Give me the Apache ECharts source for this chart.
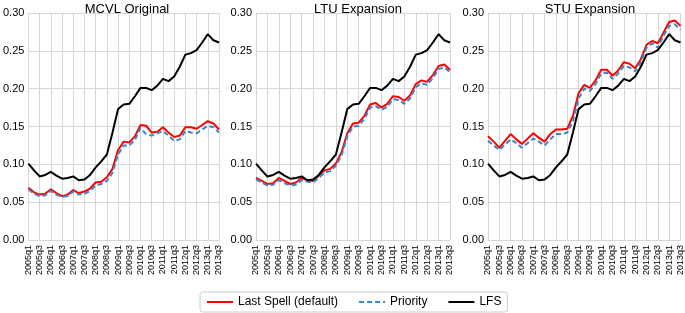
<!DOCTYPE html>
<html>
<head>
<meta charset="utf-8">
<script src="https://cdn.jsdelivr.net/npm/echarts@6/dist/echarts.min.js"></script>
<style>
html, body {margin:0; padding:0; background:#fff;}
#chart {width:685px; height:313px;}
</style>
</head>
<body>
<div id="chart"></div>
<script>
var quarters = ['2005q1','2005q2','2005q3','2005q4','2006q1','2006q2','2006q3','2006q4',
	'2007q1','2007q2','2007q3','2007q4','2008q1','2008q2','2008q3','2008q4',
	'2009q1','2009q2','2009q3','2009q4','2010q1','2010q2','2010q3','2010q4',
	'2011q1','2011q2','2011q3','2011q4','2012q1','2012q2','2012q3','2012q4',
	'2013q1','2013q2','2013q3'];
var panel_titles = ['MCVL Original', 'LTU Expansion', 'STU Expansion'];
var series_names = ['Last Spell (default)', 'Priority', 'LFS'];

var lfs = [0.101,0.092,0.084,0.086,0.090,0.085,0.081,0.082,0.084,0.079,0.080,0.086,
	0.096,0.104,0.113,0.142,0.173,0.179,0.180,0.190,0.201,0.201,0.198,0.204,
	0.213,0.210,0.216,0.229,0.245,0.247,0.251,0.261,0.272,0.264,0.261];

var mcvl_last = [0.069,0.063,0.060,0.061,0.067,0.062,0.058,0.060,0.066,0.062,0.064,0.068,
	0.076,0.077,0.083,0.094,0.119,0.130,0.129,0.137,0.152,0.151,0.142,0.143,
	0.149,0.142,0.136,0.138,0.149,0.149,0.147,0.152,0.157,0.154,0.146];
var mcvl_prio = [0.067,0.061,0.058,0.059,0.065,0.060,0.057,0.058,0.064,0.060,0.061,0.065,
	0.072,0.074,0.078,0.089,0.113,0.125,0.125,0.132,0.148,0.140,0.138,0.141,
	0.144,0.138,0.131,0.133,0.144,0.142,0.141,0.146,0.151,0.149,0.142];

var ltu_last = [0.082,0.078,0.074,0.075,0.082,0.078,0.074,0.076,0.082,0.079,0.078,0.085,
	0.092,0.094,0.101,0.116,0.141,0.154,0.155,0.164,0.179,0.181,0.175,0.180,
	0.190,0.189,0.184,0.191,0.206,0.211,0.209,0.218,0.230,0.232,0.225];
var ltu_prio = [0.080,0.076,0.072,0.073,0.079,0.075,0.072,0.073,0.079,0.077,0.076,0.082,
	0.089,0.091,0.098,0.112,0.137,0.150,0.151,0.160,0.175,0.177,0.172,0.176,
	0.186,0.185,0.180,0.187,0.202,0.207,0.205,0.214,0.226,0.228,0.222];

var stu_last = [0.137,0.130,0.122,0.131,0.140,0.133,0.127,0.134,0.141,0.135,0.130,0.140,
	0.146,0.146,0.147,0.164,0.194,0.205,0.201,0.211,0.225,0.225,0.217,0.224,
	0.235,0.233,0.227,0.239,0.258,0.263,0.260,0.274,0.288,0.290,0.283];
var stu_prio = [0.131,0.125,0.119,0.126,0.133,0.128,0.122,0.128,0.134,0.130,0.125,0.133,
	0.140,0.140,0.142,0.157,0.187,0.200,0.197,0.206,0.220,0.221,0.213,0.220,
	0.230,0.228,0.223,0.235,0.254,0.260,0.254,0.270,0.283,0.285,0.278];

var panel_data = [[mcvl_last, mcvl_prio], [ltu_last, ltu_prio], [stu_last, stu_prio]];
var grid_left = [25, 256, 488];
var font = 'Liberation Sans, Arial, sans-serif';

var myChart = echarts.init(document.getElementById('chart'));
var grids = [], xAxes = [], yAxes = [], titles = [], series = [];
for (var i = 0; i < 3; i++) {
	grids.push({left: grid_left[i], top: 13, width: 194, height: 227});
	titles.push({
		text: panel_titles[i],
		left: grid_left[i] + 97,
		top: -2,
		textAlign: 'center',
		textStyle: {fontSize: 13, fontWeight: 'normal', color: '#000', fontFamily: font}
	});
	xAxes.push({
		type: 'category', gridIndex: i, data: quarters, boundaryGap: false,
		axisLine: {show: true, lineStyle: {color: '#d6d6d6'}},
		axisTick: {show: false},
		axisLabel: {interval: 1, rotate: 90, fontSize: 9, color: '#000', margin: 5, fontFamily: font},
		splitLine: {show: true, interval: 1, lineStyle: {color: '#d6d6d6', width: 1}}
	});
	yAxes.push({
		type: 'value', gridIndex: i, min: 0, max: 0.3, interval: 0.05,
		axisLine: {show: false},
		axisTick: {show: false},
		axisLabel: {fontSize: 11, color: '#000', margin: 4, fontFamily: font,
			formatter: function (v) { return v.toFixed(2); }},
		splitLine: {show: true, lineStyle: {color: '#d6d6d6', width: 1}}
	});
	series.push({
		name: series_names[0], type: 'line', xAxisIndex: i, yAxisIndex: i,
		data: panel_data[i][0], symbol: 'none',
		lineStyle: {color: '#ff0000', width: 2}, itemStyle: {color: '#ff0000'}
	});
	series.push({
		name: series_names[1], type: 'line', xAxisIndex: i, yAxisIndex: i,
		data: panel_data[i][1], symbol: 'none',
		lineStyle: {color: '#3a87c7', width: 2, type: [5, 3]}, itemStyle: {color: '#3a87c7'}
	});
	series.push({
		name: series_names[2], type: 'line', xAxisIndex: i, yAxisIndex: i,
		data: lfs, symbol: 'none',
		lineStyle: {color: '#000', width: 2}, itemStyle: {color: '#000'}
	});
}

var option = {
	animation: false,
	title: titles,
	grid: grids,
	xAxis: xAxes,
	yAxis: yAxes,
	legend: {
		data: series_names,
		left: 200, top: 292,
		itemWidth: 26, itemHeight: 12, itemGap: 20,
		padding: [4, 6],
		itemStyle: {opacity: 0},
		borderColor: '#cccccc', borderWidth: 1, borderRadius: 3,
		textStyle: {fontSize: 12, color: '#000', fontFamily: font}
	},
	series: series
};
myChart.setOption(option);
</script>
</body>
</html>
